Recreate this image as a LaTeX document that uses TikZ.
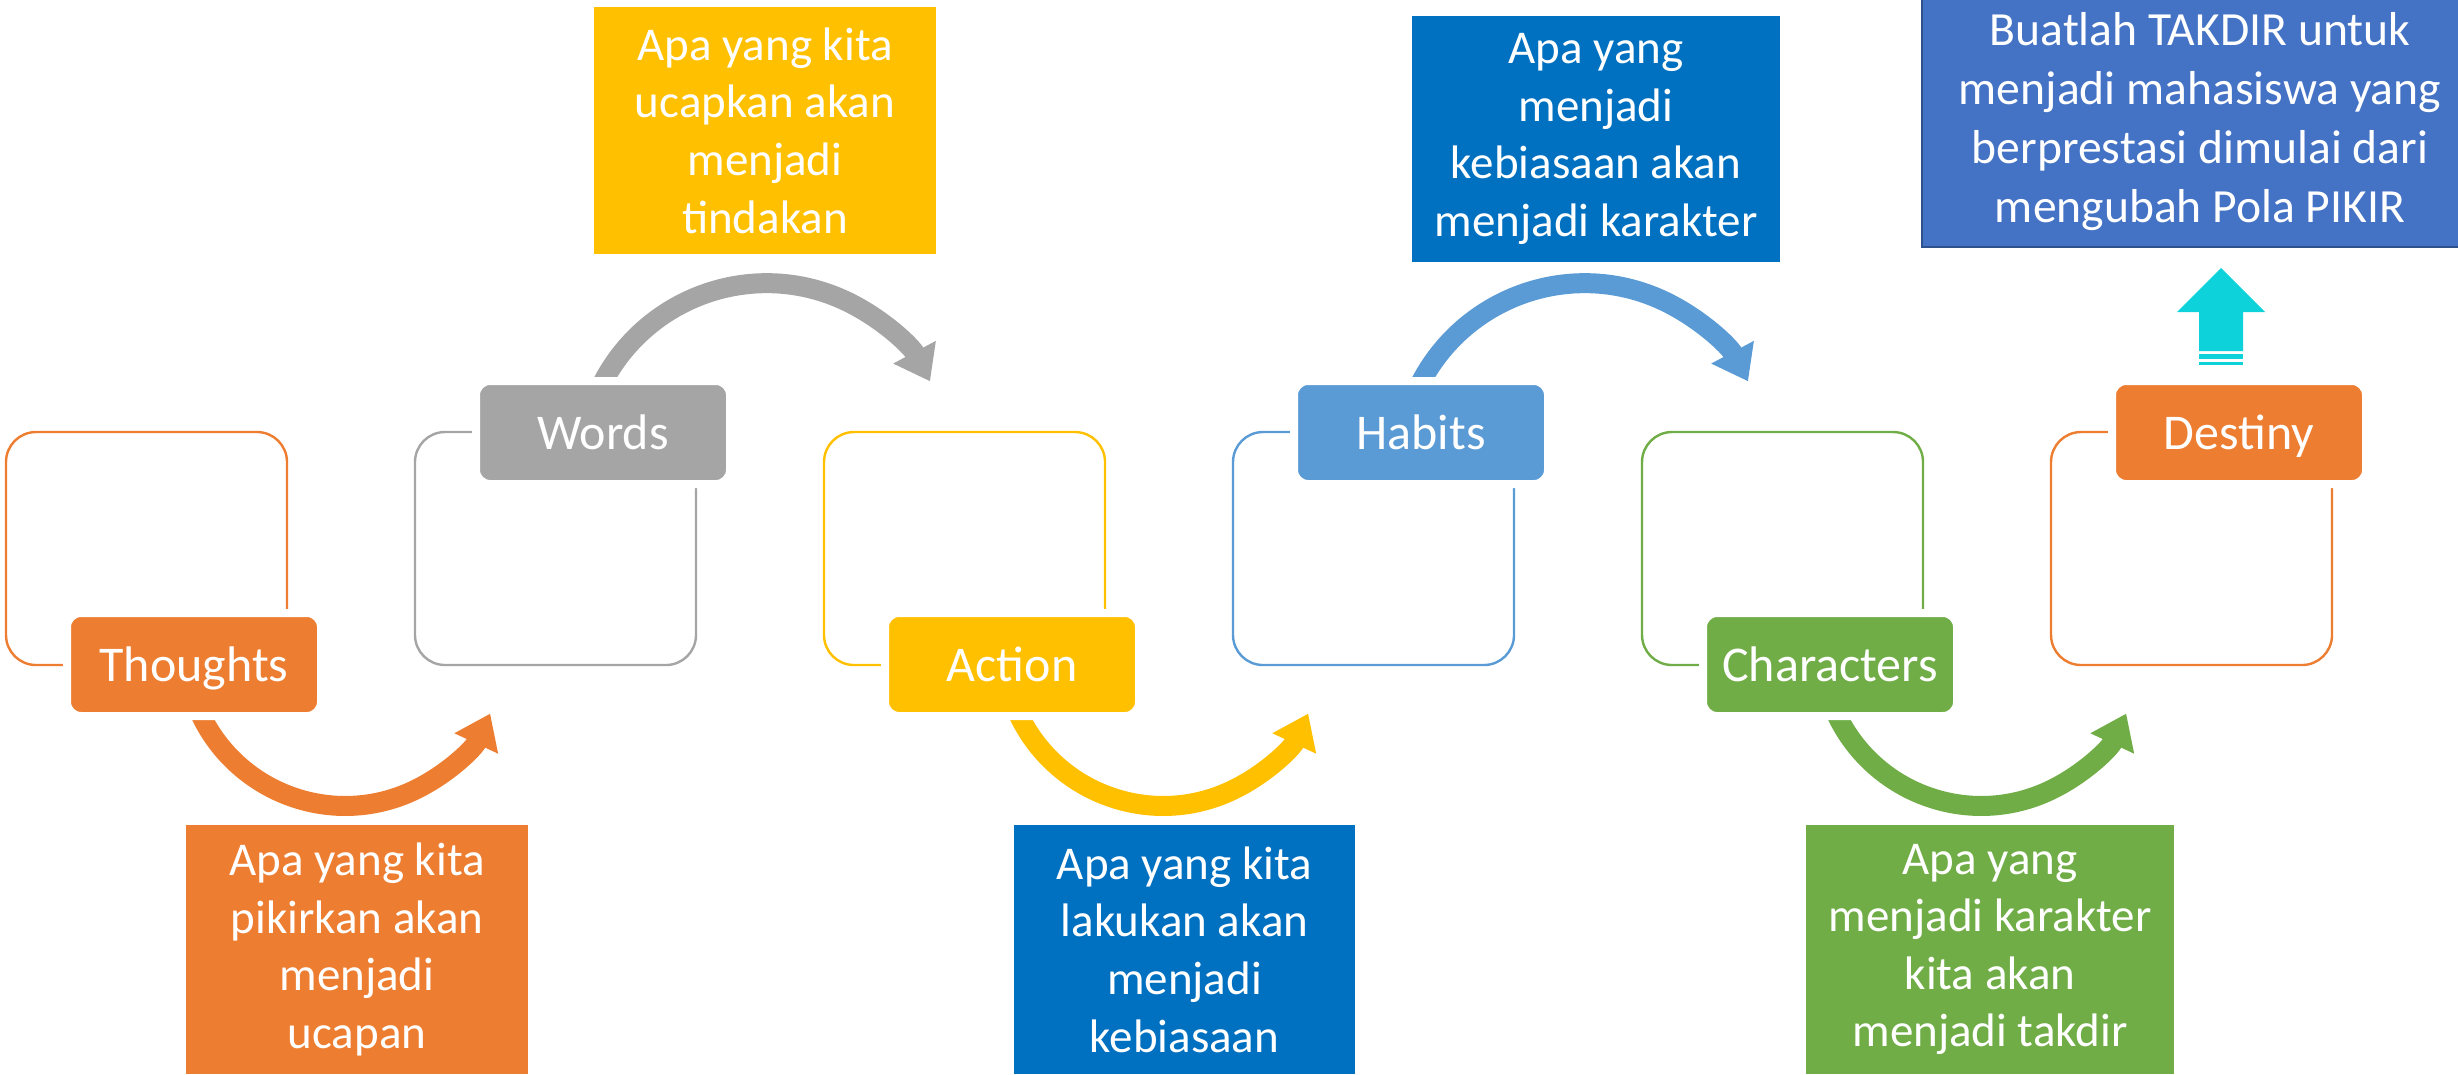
\documentclass[tikz,border=0pt]{standalone}
\usepackage{fontspec}
\setmainfont{Carlito}
\usetikzlibrary{arrows.meta}

\definecolor{orangeA}{RGB}{237,125,49}
\definecolor{greyA}{RGB}{165,165,165}
\definecolor{goldA}{RGB}{255,192,0}
\definecolor{skyA}{RGB}{91,155,213}
\definecolor{blueA}{RGB}{0,112,192}
\definecolor{greenA}{RGB}{112,173,71}
\definecolor{navyA}{RGB}{68,114,196}
\definecolor{navyEdge}{RGB}{47,82,143}
\definecolor{cyanA}{RGB}{14,210,218}

\pgfdeclarelayer{back}
\pgfsetlayers{back,main}

\begin{document}
\begin{tikzpicture}[x=0.25pt,y=0.25pt,yscale=-1,xscale=1,
	frame/.style={draw=#1, line width=0.6pt, rounded corners=7.5pt, minimum width=70.25pt, minimum height=58.25pt, inner sep=0pt},
	stage/.style={fill=#1, draw=white, line width=2pt, rounded corners=3.5pt, minimum width=63.5pt, minimum height=25.75pt, inner sep=0pt, text depth=0pt, text=white, font=\fontsize{12.5}{15}\selectfont},
	note/.style={fill=#1, inner sep=0pt, text=white, align=center, font=\fontsize{11.75}{14.4}\selectfont},
	turn/.style={draw=#1, line width=5pt, -{Triangle[length=8.25pt,width=11.5pt]}}]
		\useasboundingbox (0,0) rectangle (2458,1074);
		\clip (0,0) rectangle (2458,1074);
		
		%frames
		\node[frame=orangeA] (box1) at (146.5,548.5) {};
		\node[frame=greyA] (box2) at (555.5,548.5) {};
		\node[frame=goldA] (box3) at (964.5,548.5) {};
		\node[frame=skyA] (box4) at (1373.5,548.5) {};
		\node[frame=greenA] (box5) at (1782.5,548.5) {};
		\node[frame=orangeA] (box6) at (2191.5,548.5) {};
		
		%stage labels
		\node[stage=orangeA] (thoughts) at (194,664.5) {Thoughts};
		\node[stage=greyA] (words) at (603,432.5) {Words};
		\node[stage=goldA] (action) at (1012,664.5) {Action};
		\node[stage=skyA] (habits) at (1421,432.5) {Habits};
		\node[stage=greenA] (characters) at (1830,664.5) {Characters};
		\node[stage=orangeA] (destiny) at (2239,432.5) {Destiny};
		
		%curved arrows, behind the labels
		\begin{pgfonlayer}{back}
		\draw[turn=orangeA] ([shift={(5,-9)}]thoughts.south) arc[start angle=156, end angle=25, radius=160];
		\draw[turn=greyA] ([shift={(-4,13)}]words.north) arc[start angle=-155, end angle=-28, radius=185];
		\draw[turn=goldA] ([shift={(5,-9)}]action.south) arc[start angle=156, end angle=25, radius=160];
		\draw[turn=skyA] ([shift={(-4,13)}]habits.north) arc[start angle=-155, end angle=-28, radius=185];
		\draw[turn=greenA] ([shift={(5,-9)}]characters.south) arc[start angle=156, end angle=25, radius=160];
		\end{pgfonlayer}
		
		%notes
		\node[note=orangeA, minimum width=85.5pt, minimum height=62.25pt] (thoughtsnote) at (357,949.5) {Apa yang kita\\pikirkan akan\\menjadi\\ucapan};
		\node[note=goldA, minimum width=85.5pt, minimum height=61.75pt] (wordsnote) at (765,130.5) {Apa yang kita\\ucapkan akan\\menjadi\\tindakan};
		\node[note=blueA, minimum width=85.25pt, minimum height=62.25pt] (actionnote) at (1184.5,949.5) {Apa yang kita\\lakukan akan\\menjadi\\kebiasaan};
		\node[note=blueA, minimum width=92pt, minimum height=61.5pt] (habitsnote) at (1596,139) {Apa yang\\menjadi\\kebiasaan akan\\menjadi karakter};
		\node[note=greenA, minimum width=92pt, minimum height=62.25pt] (charactersnote) at (1990,949.5) {Apa yang\\menjadi karakter\\kita akan\\menjadi takdir};
		\node[note=navyA, draw=navyEdge, line width=0.6pt, minimum width=139pt, minimum height=62.75pt, font=\fontsize{11.9}{14.8}\selectfont] (goal) at (2200,121.5) {Buatlah TAKDIR untuk\\menjadi mahasiswa yang\\berprestasi dimulai dari\\mengubah Pola PIKIR};
		
		%up arrow to the goal
		\fill[cyanA] (2221,268) -- (2265,312) -- (2243,312) -- (2243,351) -- (2199,351) -- (2199,312) -- (2177,312) -- cycle;
		\fill[cyanA] (2199,354) rectangle (2243,359);
		\fill[cyanA] (2199,362) rectangle (2243,365);
		
\end{tikzpicture}
\end{document}
